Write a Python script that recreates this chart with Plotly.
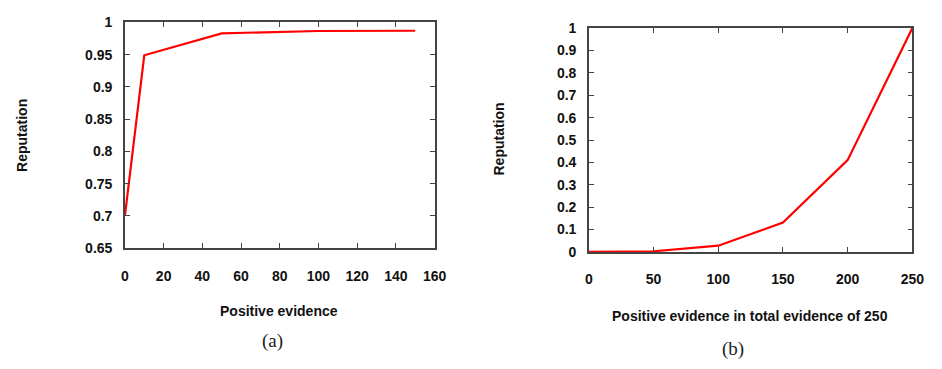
import plotly.graph_objects as go

# Panel (a): reputation vs. positive evidence
evidence_a = [0, 10, 50, 75, 100, 150]
reputation_a = [0.700, 0.949, 0.983, 0.985, 0.9866, 0.987]
xticks_a = [0, 20, 40, 60, 80, 100, 120, 140, 160]
yticks_a = [0.65, 0.7, 0.75, 0.8, 0.85, 0.9, 0.95, 1.0]
yticklabels_a = ["0.65", "0.7", "0.75", "0.8", "0.85", "0.9", "0.95", "1"]

# Panel (b): reputation vs. positive evidence out of 250 total
evidence_b = [0, 50, 100, 150, 200, 250]
reputation_b = [0.0, 0.003, 0.028, 0.131, 0.410, 1.0]
xticks_b = [0, 50, 100, 150, 200, 250]
yticks_b = [0, 0.1, 0.2, 0.3, 0.4, 0.5, 0.6, 0.7, 0.8, 0.9, 1.0]
yticklabels_b = ["0", "0.1", "0.2", "0.3", "0.4", "0.5", "0.6", "0.7", "0.8", "0.9", "1"]

W, H = 942, 369
TICK_FONT = dict(family="Arial, Liberation Sans, sans-serif", size=14, color="#111111",
                 weight="bold")
LABEL_FONT = dict(family="Arial, Liberation Sans, sans-serif", size=14, color="#111111")
CAPTION_FONT = dict(family="Times New Roman, Liberation Serif, serif", size=19, color="#222222")


def px_x(p):
    return p / W


def px_y(p):
    return 1 - p / H


axis_common = dict(
    showline=True, linecolor="#444444", linewidth=1.5, mirror="ticks",
    ticks="inside", ticklen=5, tickwidth=1.3, tickcolor="#444444",
    showgrid=False, zeroline=False, tickfont=TICK_FONT,
)

fig = go.Figure()
fig.add_trace(go.Scatter(x=evidence_a, y=reputation_a, mode="lines",
                         line=dict(color="#ff0000", width=2.2),
                         xaxis="x", yaxis="y", showlegend=False))
fig.add_trace(go.Scatter(x=evidence_b, y=reputation_b, mode="lines",
                         line=dict(color="#ff0000", width=2.2),
                         xaxis="x2", yaxis="y2", showlegend=False))

fig.update_layout(
    width=W, height=H,
    margin=dict(l=0, r=0, t=0, b=0),
    paper_bgcolor="white", plot_bgcolor="white",
    xaxis=dict(axis_common, domain=[px_x(123), px_x(438)], range=[0, 160],
               tickvals=xticks_a, ticklabelstandoff=14, anchor="y"),
    yaxis=dict(axis_common, domain=[px_y(251), px_y(15)], range=[0.65, 1.0],
               tickvals=yticks_a, ticktext=yticklabels_a, ticklabelstandoff=8, anchor="x"),
    xaxis2=dict(axis_common, domain=[px_x(595), px_x(924)], range=[0, 250],
                tickvals=xticks_b, ticklabelstandoff=14, anchor="y2"),
    yaxis2=dict(axis_common, domain=[px_y(255), px_y(21)], range=[0, 1.0],
                tickvals=yticks_b, ticktext=yticklabels_b, ticklabelstandoff=8, anchor="x2"),
)

annotations = [
    dict(text="<b>Reputation</b>", x=px_x(19), y=px_y(133), textangle=-90, font=LABEL_FONT),
    dict(text="<b>Reputation</b>", x=px_x(504), y=px_y(137), textangle=-90, font=LABEL_FONT),
    dict(text="<b>Positive evidence</b>", x=px_x(280), y=px_y(317), font=LABEL_FONT),
    dict(text="<b>Positive evidence in total evidence of 250</b>", x=px_x(759), y=px_y(322),
         font=LABEL_FONT),
    dict(text="(a)", x=px_x(273), y=px_y(348), font=CAPTION_FONT),
    dict(text="(b)", x=px_x(742), y=px_y(356), font=CAPTION_FONT),
]
for a in annotations:
    a.update(xref="paper", yref="paper", showarrow=False, xanchor="center", yanchor="middle")
fig.update_layout(annotations=annotations)

fig.write_html("out.html")
